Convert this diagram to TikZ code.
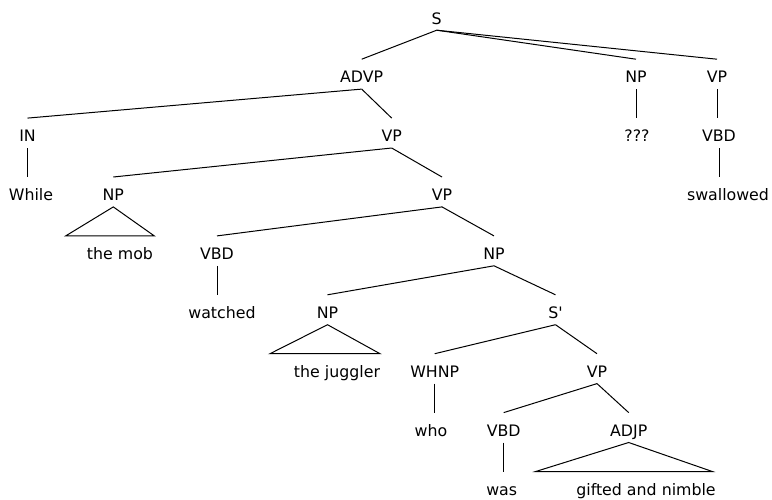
\documentclass[tikz,border=0pt]{standalone}
\usepackage{fontspec}
\setmainfont{DejaVu Sans}
\tikzstyle{tag}=[inner sep=0pt,text height=23.5pt,text depth=6pt,anchor=base]
\tikzstyle{branch}=[line width=1pt]
\tikzstyle{roof}=[line width=1pt,line join=miter]

\begin{document}
\begin{tikzpicture}[x=1pt,y=-1pt,font=\fontsize{15.8}{19}\selectfont]
\useasboundingbox (0,0) rectangle (772,499);

% phrase labels, one row at a time
\node[tag] (S) at (436.7,24) {S};

\node[tag] (ADVP) at (361.7,82.9) {ADVP};
\node[tag] (NP1) at (636,82.9) {NP};
\node[tag] (VP1) at (717,82.9) {VP};

\node[tag] (IN) at (27.5,141.8) {IN};
\node[tag] (VP2) at (391.7,141.8) {VP};
\node[tag] (QQQ) at (637,141.8) {???};
\node[tag] (VBD1) at (719,141.8) {VBD};

\node[tag] (WHILE) at (31,200.7) {While};
\node[tag] (NP2) at (113.3,200.7) {NP};
\node[tag] (VP3) at (442,200.7) {VP};
\node[tag] (SWALLOWED) at (728,200.7) {swallowed};

\node[tag] (MOB) at (120,259.6) {the mob};
\node[tag] (VBD2) at (217,259.6) {VBD};
\node[tag] (NP3) at (494,259.6) {NP};

\node[tag] (WATCHED) at (222,318.5) {watched};
\node[tag] (NP4) at (327.5,318.5) {NP};
\node[tag] (SBAR) at (555.5,318.5) {S\textquotesingle};

\node[tag] (JUGGLER) at (337,377.4) {the juggler};
\node[tag] (WHNP) at (434.7,377.4) {WHNP};
\node[tag] (VP4) at (597,377.4) {VP};

\node[tag] (WHO) at (431,436.3) {who};
\node[tag] (VBD3) at (503.7,436.3) {VBD};
\node[tag] (ADJP) at (628.7,436.3) {ADJP};

\node[tag] (WAS) at (501.7,495.2) {was};
\node[tag] (GIFTED) at (646,495.2) {gifted and nimble};

% base corners of the collapsed constituents
\coordinate[shift={(-54.3,0)}] (MOBL) at (MOB.north);
\coordinate[shift={(34.3,0)}] (MOBR) at (MOB.north);
\coordinate[shift={(-67,0)}] (JUGGLERL) at (JUGGLER.north);
\coordinate[shift={(43,0)}] (JUGGLERR) at (JUGGLER.north);
\coordinate[shift={(-110.3,0)}] (GIFTEDL) at (GIFTED.north);
\coordinate[shift={(66.3,0)}] (GIFTEDR) at (GIFTED.north);

\draw[branch] (S.south) -- (ADVP.north);
\draw[branch] (S.south) -- (NP1.north);
\draw[branch] (S.south) -- (VP1.north);

\draw[branch] (ADVP.south) -- (IN.north);
\draw[branch] (ADVP.south) -- (VP2.north);
\draw[branch] (NP1.south) -- (NP1.south |- QQQ.north);
\draw[branch] (VP1.south) -- (VP1.south |- VBD1.north);

\draw[branch] (IN.south) -- (IN.south |- WHILE.north);
\draw[branch] (VP2.south) -- (NP2.north);
\draw[branch] (VP2.south) -- (VP3.north);
\draw[branch] (VBD1.south) -- (VBD1.south |- SWALLOWED.north);

\draw[roof] (NP2.south) -- (MOBL) -- (MOBR) -- cycle;
\draw[branch] (VP3.south) -- (VBD2.north);
\draw[branch] (VP3.south) -- (NP3.north);

\draw[branch] (VBD2.south) -- (VBD2.south |- WATCHED.north);
\draw[branch] (NP3.south) -- (NP4.north);
\draw[branch] (NP3.south) -- (SBAR.north);

\draw[roof] (NP4.south) -- (JUGGLERL) -- (JUGGLERR) -- cycle;
\draw[branch] (SBAR.south) -- (WHNP.north);
\draw[branch] (SBAR.south) -- (VP4.north);

\draw[branch] (WHNP.south) -- (WHNP.south |- WHO.north);
\draw[branch] (VP4.south) -- (VBD3.north);
\draw[branch] (VP4.south) -- (ADJP.north);

\draw[branch] (VBD3.south) -- (VBD3.south |- WAS.north);
\draw[roof] (ADJP.south) -- (GIFTEDL) -- (GIFTEDR) -- cycle;

\end{tikzpicture}
\end{document}
